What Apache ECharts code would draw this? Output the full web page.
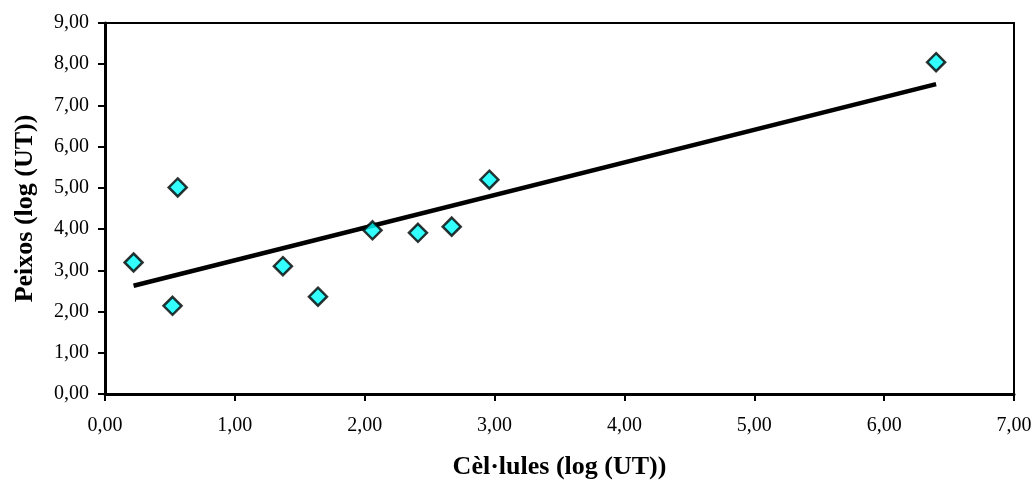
<!DOCTYPE html>
<html>
<head>
<meta charset="utf-8">
<script src="https://cdn.jsdelivr.net/npm/echarts@6/dist/echarts.min.js"></script>
<style>
  html, body { margin: 0; padding: 0; background: #fff; }
  #chart { width: 1035px; height: 485px; }
</style>
</head>
<body>
<div id="chart"></div>
<script>
// Cells vs fish abundance, both in log (UT)
const cellulesLog = [0.22, 0.52, 0.56, 1.37, 1.64, 2.06, 2.41, 2.67, 2.96, 6.40];
const peixosLog   = [3.19, 2.14, 5.01, 3.10, 2.36, 3.97, 3.91, 4.06, 5.20, 8.05];
const xAxisTitle = 'Cèl·lules (log (UT))';
const yAxisTitle = 'Peixos (log (UT))';

// Least-squares trend line across the observed x range
function linearFit(xs, ys) {
  const n = xs.length;
  const mx = xs.reduce((a, b) => a + b, 0) / n;
  const my = ys.reduce((a, b) => a + b, 0) / n;
  let sxy = 0, sxx = 0;
  for (let i = 0; i < n; i++) {
    sxy += (xs[i] - mx) * (ys[i] - my);
    sxx += (xs[i] - mx) * (xs[i] - mx);
  }
  const slope = sxy / sxx;
  return { slope, intercept: my - slope * mx };
}
const fit = linearFit(cellulesLog, peixosLog);
const xMin = Math.min(...cellulesLog), xMax = Math.max(...cellulesLog);
const trend = [xMin, xMax].map(x => [x, fit.intercept + fit.slope * x]);

const points = cellulesLog.map((x, i) => [x, peixosLog[i]]);
const fmt = v => v.toFixed(2).replace('.', ',');
const serif = '"Liberation Serif", "Times New Roman", serif';

const chart = echarts.init(document.getElementById('chart'));
chart.setOption({
  animation: false,
  backgroundColor: '#ffffff',
  grid: {
    left: 105, right: 21, top: 23, bottom: 90,
    show: true, borderColor: '#000', borderWidth: 2, backgroundColor: 'transparent'
  },
  xAxis: {
    type: 'value', min: 0, max: 7, interval: 1,
    name: xAxisTitle, nameLocation: 'middle', nameGap: 60,
    nameTextStyle: { fontFamily: serif, fontWeight: 'bold', fontSize: 26, color: '#000' },
    axisLine: { show: true, lineStyle: { color: '#000', width: 3 } },
    axisTick: { show: true, length: 7, lineStyle: { color: '#000', width: 2 } },
    axisLabel: { formatter: fmt, fontFamily: serif, fontSize: 20, color: '#000', margin: 22 },
    splitLine: { show: false }
  },
  yAxis: {
    type: 'value', min: 0, max: 9, interval: 1,
    name: yAxisTitle, nameLocation: 'middle', nameGap: 67,
    nameTextStyle: { fontFamily: serif, fontWeight: 'bold', fontSize: 26, color: '#000' },
    axisLine: { show: true, lineStyle: { color: '#000', width: 3 } },
    axisTick: { show: true, length: 7, lineStyle: { color: '#000', width: 2 } },
    axisLabel: { formatter: fmt, fontFamily: serif, fontSize: 20, color: '#000', margin: 16 },
    splitLine: { show: false }
  },
  series: [
    {
      type: 'line',
      data: trend,
      showSymbol: false,
      lineStyle: { color: '#000', width: 4.5 },
      z: 2
    },
    {
      type: 'scatter',
      data: points,
      symbol: 'diamond',
      symbolSize: [18, 18],
      itemStyle: { color: '#00ffff', borderColor: '#000', borderWidth: 2.5 },
      z: 3
    }
  ]
});
</script>
</body>
</html>
